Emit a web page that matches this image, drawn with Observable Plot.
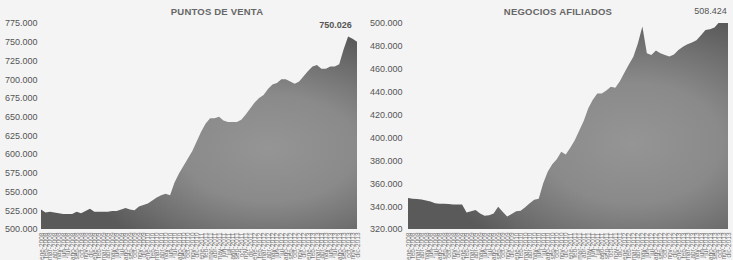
<!DOCTYPE html>
<html><head><meta charset="utf-8">
<script src="https://cdn.jsdelivr.net/npm/d3@7"></script>
<script src="https://cdn.jsdelivr.net/npm/@observablehq/plot@0.6"></script>
<style>
body{margin:0;width:733px;height:260px;background:#f4f4f4;position:relative;overflow:hidden;font-family:"Liberation Sans",Arial,sans-serif}
#left{position:absolute;left:0;top:0;width:365px;height:260px}
#right{position:absolute;left:365px;top:0;width:368px;height:260px}
#left svg,#right svg{max-width:none!important;position:absolute;left:0;top:0}
.title{position:absolute;top:6px;font-weight:bold;font-size:9.5px;color:#666;transform:translateX(-50%);white-space:nowrap;letter-spacing:0.2px}
</style></head>
<body>
<div id="left"></div>
<div id="right"></div>
<div class="title" style="left:217px">PUNTOS DE VENTA</div>
<div class="title" style="left:558px">NEGOCIOS AFILIADOS</div>
<script>
// ---- data ----
const years = ["2008","2009","2010","2011","2012","2013"];
const months = ["ene","feb","mar","abr","may","jun","jul","ago","sep","oct","nov","dic"];
const periods = years.flatMap(y => months.map(m => `${m}-${y}`));

const puntosVenta = [
  526000,522000,523000,522000,521000,520000,520000,520000,523000,521000,
  524000,527000,523000,523000,523000,523000,524000,524000,526000,528000,
  526000,525000,530000,532000,534000,538000,542000,545000,547000,545000,
  562000,574000,584000,594000,604000,617000,630000,641000,648000,648000,
  650000,645000,643000,643000,643000,646000,653000,661000,669000,675000,
  679000,687000,693000,695000,700000,700000,697000,694000,697000,704000,
  711000,717000,719000,714000,714000,717000,717000,720000,740000,757000,
  754000,750026
];
const negociosAfiliados = [
  347000,346500,346300,345700,345000,344000,342400,342000,342000,341800,
  341400,341500,341500,334500,335500,336600,333500,331500,332000,333500,
  339500,335000,331000,333000,335500,336000,339000,342500,345500,346500,
  360000,370000,376500,381000,387500,385000,391000,397500,406000,414500,
  425500,433000,438500,438500,441000,444300,443400,449000,456500,463800,
  470500,482000,497000,473500,472000,476000,473500,472000,470800,472500,
  476300,479200,481500,483000,485000,489300,493800,494500,496000,500500,
  504000,508424
];
const ticksPuntos = [500000,525000,550000,575000,600000,625000,650000,675000,700000,725000,750000,775000];
const ticksNegocios = [320000,340000,360000,380000,400000,420000,440000,460000,480000,500000];

const es = d3.formatLocale({decimal: ",", thousands: ".", grouping: [3], currency: ["", ""]});
const fmt = es.format(",.0f");

function gradient(id, cx, cy) {
  return () => {
    const defs = d3.create("svg:defs");
    const g = defs.append("radialGradient").attr("id", id).attr("cx", cx).attr("cy", cy).attr("r", 0.62);
    g.append("stop").attr("offset", "0").attr("stop-color", "#959595");
    g.append("stop").attr("offset", "0.45").attr("stop-color", "#8a8a8a");
    g.append("stop").attr("offset", "0.8").attr("stop-color", "#6c6c6c");
    g.append("stop").attr("offset", "1").attr("stop-color", "#5a5a5a");
    return defs.node();
  };
}

function chart({values, ticks, domain, width, marginLeft, marginRight, pad, gradId, cx, cy, dx, dy, weight}) {
  const data = periods.map((p, i) => ({p, v: values[i]}));
  const last = data[data.length - 1];
  return Plot.plot({
    width, height: 260,
    marginLeft, marginRight, marginTop: 23, marginBottom: 31,
    style: {fontFamily: "'Liberation Sans', Arial, sans-serif", background: "transparent", overflow: "visible"},
    x: {type: "point", domain: periods, padding: 0},
    y: {domain},
    marks: [
      gradient(gradId, cx, cy),
      Plot.areaY(data, {x: "p", y1: domain[0], y2: "v", fill: `url(#${gradId})`, clip: true}),
      Plot.axisY({ticks, tickFormat: fmt, tickSize: 0, tickPadding: pad, fontSize: 9, fill: "#555", label: null}),
      Plot.axisX({tickSize: 0, tickPadding: 3, tickRotate: -90, fontSize: 6.5, fill: "#777", label: null}),
      Plot.text([last], {x: "p", y: "v", text: d => fmt(d.v), dx, dy, lineAnchor: "bottom",
        fontSize: 9, fontWeight: weight, fill: "#555"})
    ]
  });
}

document.getElementById("left").appendChild(chart({
  values: puntosVenta, ticks: ticksPuntos, domain: [500000, 775000],
  width: 365, marginLeft: 41, marginRight: 8, pad: 4, gradId: "gL", cx: 0.72, cy: 0.58,
  dx: -22, dy: -14, weight: "bold"
}));
document.getElementById("right").appendChild(chart({
  values: negociosAfiliados, ticks: ticksNegocios, domain: [320000, 500000],
  width: 368, marginLeft: 43, marginRight: 5, pad: 6, gradId: "gR", cx: 0.7, cy: 0.6,
  dx: -18, dy: 0, weight: "normal"
}));
</script>
</body></html>
